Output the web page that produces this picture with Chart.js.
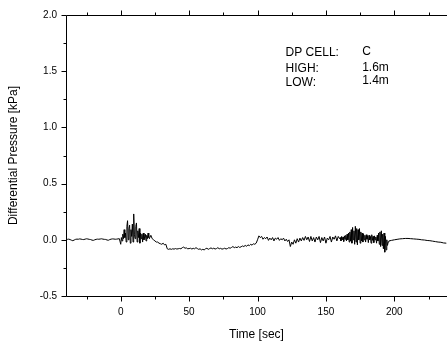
<!DOCTYPE html>
<html lang="en">

<head>
  <meta charset="UTF-8" />
  <title>DP cell C</title>
  <script src="https://cdn.jsdelivr.net/npm/chart.js"></script>
  <style>
    html, body { margin: 0; padding: 0; background: #fff; }
    .c-panel { width: 447px; height: 347px; }
  </style>
</head>

<body>
  <div class="c-panel">
    <canvas id="dpChart" width="447" height="347"></canvas>
  </div>

  <script>
    // tick positions
    const xTickValues = [0, 50, 100, 150, 200];
    const xMinorTicks = [-25, 25, 75, 125, 175, 225];
    const yTickValues = [-0.5, 0.0, 0.5, 1.0, 1.5, 2.0];
    const yMinorTicks = [-0.25, 0.25, 0.75, 1.25, 1.75];

    const infoLabels = ['DP CELL:', 'HIGH:', 'LOW:'];
    const infoValues = ['C', '1.6m', '1.4m'];

    // pressure readings [kPa] in segments
    // before start: t = -40 .. 0, every 1 s
    const preStart = -40, preStep = 1;
    const preValues = [0.005, 0.004, 0.006, 0.002, -0.004, -0.008, -0.002, 0.004, 0.006, 0.005,
      0.008, 0.006, 0.003, 0.002, 0.006, 0.009, 0.007, 0.004, 0.002, -0.003,
      -0.005, 0.000, 0.004, 0.006, 0.005, 0.007, 0.009, 0.006, 0.004, 0.003,
      -0.002, -0.004, 0.002, 0.006, 0.008, 0.007, 0.005, 0.006, 0.008, 0.010, -0.04];

    // first burst: t = 0.5 .. 22, every 0.5 s
    const burst1Start = 0.5, burst1Step = 0.5;
    const burst1Values = [0.02, -0.01, 0.05, 0.01, 0.09, 0.02, 0.06, -0.02, 0.12, 0.17,
      0.00, 0.10, 0.13, -0.03, 0.09, 0.03, 0.14, -0.02, 0.23, 0.05,
      0.01, 0.12, 0.15, -0.02, 0.08, 0.02, 0.10, -0.03, 0.06, 0.01,
      0.05, -0.02, 0.06, 0.00, 0.03, 0.05, -0.01, 0.04, 0.01, 0.06,
      0.02, 0.01, 0.03, 0.04];

    // dip: t = 23 .. 99, every 1 s
    const dipStart = 23, dipStep = 1;
    const dipValues = [0.01, 0.00, -0.01, -0.02, -0.02, -0.03, -0.035, -0.04, -0.03, -0.045,
      -0.04, -0.08, -0.085, -0.08, -0.085, -0.08, -0.083, -0.078, -0.082, -0.08,
      -0.077, -0.08, -0.07, -0.065, -0.075, -0.072, -0.08, -0.078, -0.075, -0.082,
      -0.076, -0.08, -0.07, -0.078, -0.085, -0.08, -0.09, -0.085, -0.09, -0.08,
      -0.075, -0.085, -0.078, -0.072, -0.08, -0.075, -0.082, -0.078, -0.07, -0.08,
      -0.076, -0.083, -0.08, -0.075, -0.082, -0.078, -0.07, -0.075, -0.068, -0.06,
      -0.07, -0.065, -0.07, -0.06, -0.068, -0.062, -0.055, -0.06, -0.05, -0.058,
      -0.045, -0.052, -0.04, -0.048, -0.035, -0.04, -0.03];

    // middle: t = 100 .. 160, every 1 s
    const midStart = 100, midStep = 1;
    const midValues = [0.00, 0.035, 0.02, 0.03, 0.005, 0.02, 0.01, 0.025, -0.005, 0.015,
      0.0, 0.02, -0.01, 0.015, 0.005, 0.02, -0.005, 0.01, 0.0, 0.015,
      -0.01, 0.005, -0.015, 0.0, -0.06, -0.02, -0.04, 0.0, -0.03, 0.01,
      -0.02, 0.015, -0.01, 0.02, -0.005, 0.03, 0.0, 0.025, -0.015, 0.03,
      -0.01, 0.02, -0.02, 0.025, 0.0, 0.03, -0.025, 0.02, -0.01, 0.025,
      -0.03, 0.015, 0.0, 0.03, -0.02, 0.025, 0.005, 0.035, -0.01, 0.03,
      0.01];

    // second burst: t = 160.5 .. 196, every 0.5 s
    const burst2Start = 160.5, burst2Step = 0.5;
    const burst2Values = [0.02, -0.01, 0.03, 0.0, 0.025, -0.015, 0.035, 0.005, 0.04, -0.01,
      0.05, 0.0, 0.06, -0.02, 0.07, -0.01, 0.09, -0.03, 0.11, 0.0,
      0.08, -0.04, 0.12, -0.02, 0.10, -0.045, 0.09, 0.0, 0.10, -0.03,
      0.07, -0.01, 0.06, -0.02, 0.05, 0.0, 0.04, -0.02, 0.045, 0.005,
      0.035, -0.025, 0.04, 0.0, 0.03, -0.03, 0.045, -0.005, 0.03, -0.025,
      0.035, 0.0, 0.025, -0.03, 0.04, -0.01, 0.06, -0.04, 0.07, -0.06,
      0.08, -0.05, 0.05, -0.08, 0.06, -0.11, 0.03, -0.09, 0.0, -0.05,
      -0.02, -0.01];

    // tail: t = 198 .. 238, every 2 s
    const tailStart = 198, tailStep = 2;
    const tailValues = [-0.005, 0.0, 0.004, 0.008, 0.01, 0.012, 0.012, 0.01, 0.008, 0.006,
      0.004, 0.0, -0.002, -0.006, -0.008, -0.012, -0.016, -0.02, -0.022, -0.028,
      -0.03];

    function toPoints(start, step, values) {
      return values.map((v, i) => ({ x: start + i * step, y: v }));
    }

    const pressurePoints = [].concat(
      toPoints(preStart, preStep, preValues),
      toPoints(burst1Start, burst1Step, burst1Values),
      toPoints(dipStart, dipStep, dipValues),
      toPoints(midStart, midStep, midValues),
      toPoints(burst2Start, burst2Step, burst2Values),
      toPoints(tailStart, tailStep, tailValues)
    );

    const FONT = '"Liberation Sans", Arial, sans-serif';
    Chart.defaults.font.family = FONT;
    Chart.defaults.color = '#000';

    // frame, major/minor tick marks and the info text
    const framePlugin = {
      id: 'frame',
      afterDraw(chart) {
        const ctx = chart.ctx;
        const area = chart.chartArea;
        const xs = chart.scales.x;
        const ys = chart.scales.y;
        const L = Math.round(area.left) + 0.5;
        const T = Math.round(area.top) + 0.5;
        const B = Math.round(area.bottom) + 0.5;
        const R = area.right;
        ctx.save();
        ctx.strokeStyle = '#000';
        ctx.lineWidth = 1;
        ctx.beginPath();
        ctx.moveTo(L, T); ctx.lineTo(R, T);
        ctx.moveTo(L, T); ctx.lineTo(L, B);
        ctx.moveTo(L, B); ctx.lineTo(R, B);

        const xMarks = xTickValues.map(v => [v, 5]).concat(xMinorTicks.map(v => [v, 3]));
        xMarks.forEach(([v, len]) => {
          const px = Math.round(xs.getPixelForValue(v)) + 0.5;
          ctx.moveTo(px, T); ctx.lineTo(px, T - len);
          ctx.moveTo(px, B); ctx.lineTo(px, B + len);
        });
        const yMarks = yTickValues.map(v => [v, 5]).concat(yMinorTicks.map(v => [v, 3]));
        yMarks.forEach(([v, len]) => {
          const py = Math.round(ys.getPixelForValue(v)) + 0.5;
          ctx.moveTo(L, py); ctx.lineTo(L - len, py);
        });
        ctx.stroke();

        ctx.fillStyle = '#000';
        ctx.font = '12px ' + FONT;
        ctx.textBaseline = 'alphabetic';
        const labelX = xs.getPixelForValue(120.5);
        const valueX = xs.getPixelForValue(176.5);
        const rows = [56, 72, 85.5];
        infoLabels.forEach((t, i) => ctx.fillText(t, labelX, rows[i]));
        infoValues.forEach((t, i) => ctx.fillText(t, valueX, rows[i] - 1.5));
        ctx.restore();
      }
    };

    new Chart(document.getElementById('dpChart'), {
      type: 'line',
      data: {
        datasets: [{
          data: pressurePoints,
          borderColor: '#000',
          borderWidth: 1,
          pointRadius: 0,
          tension: 0,
          fill: false
        }]
      },
      options: {
        responsive: false,
        animation: false,
        events: [],
        layout: { padding: { top: 13, right: 0, left: 0, bottom: 0 } },
        plugins: {
          legend: { display: false },
          tooltip: { enabled: false }
        },
        scales: {
          x: {
            type: 'linear',
            min: -40,
            max: 238.5,
            afterBuildTicks: s => { s.ticks = xTickValues.map(v => ({ value: v })); },
            afterFit: s => { s.height = 51; },
            grid: { display: false, drawTicks: false },
            border: { display: false },
            ticks: { font: { size: 10 }, padding: 10, maxRotation: 0, autoSkip: false },
            title: { display: true, text: 'Time [sec]', font: { size: 12 }, padding: { top: 0, bottom: 5 } }
          },
          y: {
            type: 'linear',
            min: -0.5,
            max: 2.0,
            afterBuildTicks: s => { s.ticks = yTickValues.map(v => ({ value: v })); },
            afterFit: s => { s.width = 66; },
            grid: { display: false, drawTicks: false },
            border: { display: false },
            ticks: { font: { size: 10 }, padding: 9, callback: v => Number(v).toFixed(1) },
            title: { display: true, text: 'Differential Pressure [kPa]', font: { size: 12 }, padding: { top: 6, bottom: 0 } }
          }
        }
      },
      plugins: [framePlugin]
    });
  </script>
</body>

</html>
